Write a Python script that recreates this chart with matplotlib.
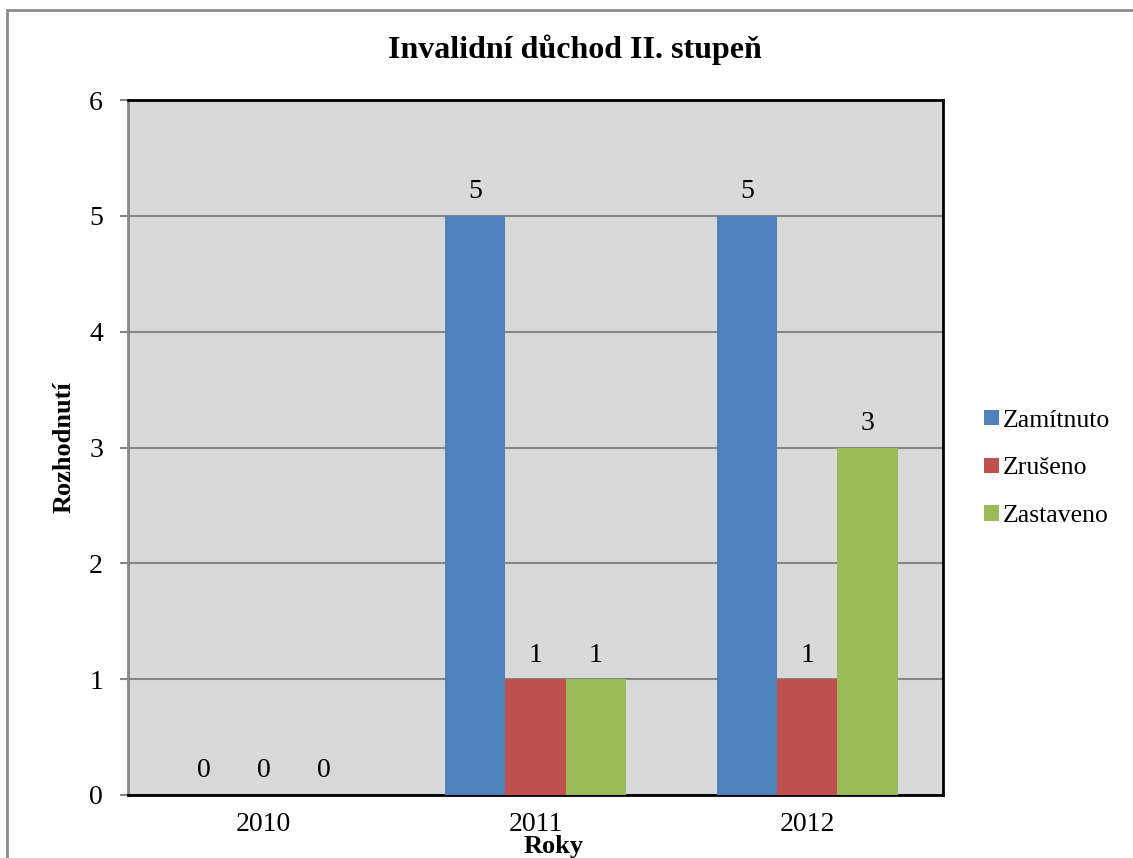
import numpy as np
import matplotlib
matplotlib.use("Agg")
import matplotlib.pyplot as plt
from matplotlib.patches import Rectangle

# data
years = ["2010", "2011", "2012"]
zamitnuto = [0, 5, 5]
zruseno = [0, 1, 1]
zastaveno = [0, 1, 3]
series_names = ["Zamítnuto", "Zrušeno", "Zastaveno"]
colors = ["#4F81BD", "#C0504D", "#9BBB59"]

plt.rcParams['font.family'] = ['Liberation Serif', 'DejaVu Serif']

fig = plt.figure(figsize=(11.33, 8.58), dpi=100)
# outer chart border
fig.patches.append(Rectangle((7 / 1133, -0.01), 1.2, 1 - 10 / 858 + 0.01,
                             transform=fig.transFigure, fill=False,
                             edgecolor="#8c8c8c", linewidth=2))

ax = fig.add_axes([128 / 1133, 63 / 858, 815 / 1133, 695 / 858])
ax.set_facecolor("#D9D9D9")

x = np.arange(len(years))
w = 1 / 4.5
series = [zamitnuto, zruseno, zastaveno]
for i, vals in enumerate(series):
    pos = x + (i - 1) * w
    ax.bar(pos, vals, width=w, color=colors[i], label=series_names[i], zorder=3)
    for p, v in zip(pos, vals):
        ax.text(p, v + 0.1, str(v), ha="center", va="bottom", fontsize=20, zorder=4)

ax.set_xlim(-0.5, 2.5)
ax.set_ylim(0, 6)
ax.set_yticks(range(7))
ax.set_xticks(x)
ax.set_xticklabels(years)
ax.yaxis.grid(True, color="#868686", linewidth=1.5, zorder=1)
ax.tick_params(axis="y", labelsize=20, length=6, width=1.5, color="#868686", pad=12)
ax.tick_params(axis="x", labelsize=20, length=0, pad=12)

for s in ["top", "right", "bottom"]:
    ax.spines[s].set_color("black")
    ax.spines[s].set_linewidth(2)
ax.spines["left"].set_color("#868686")
ax.spines["left"].set_linewidth(2)

ax.set_ylabel("Rozhodnutí", fontsize=19, fontweight="bold", labelpad=10)
fig.text(554 / 1133, 1 - 847 / 858, "Roky", ha="center", va="center",
         fontsize=19, fontweight="bold")

fig.text(575 / 1133, 1 - 50 / 858, "Invalidní důchod II. stupeň",
         ha="center", va="center", fontsize=23, fontweight="bold")

ax.legend(loc="center left", bbox_to_anchor=(1.035, 0.47), frameon=False,
          fontsize=18.5, handlelength=0.55, handleheight=0.55, handletextpad=0.15,
          labelspacing=1.0, borderpad=0)

fig.savefig("out.png", dpi=100)
